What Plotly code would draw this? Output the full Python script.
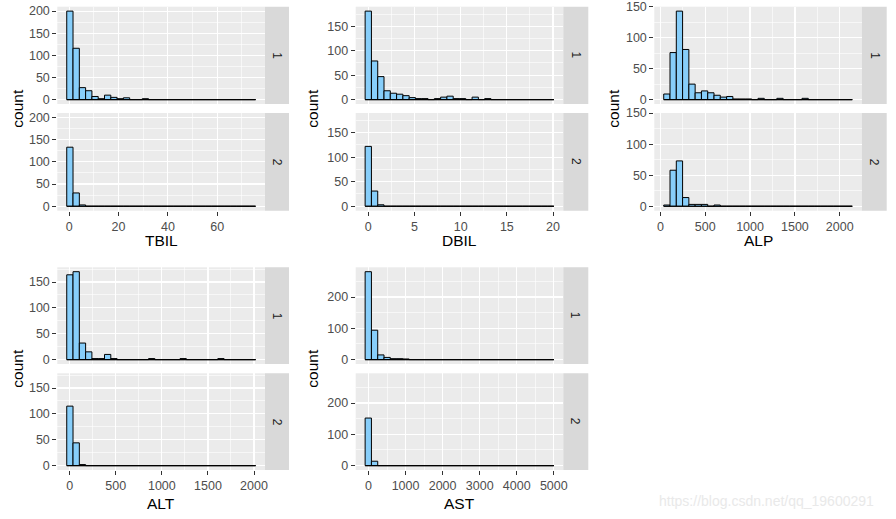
import plotly.graph_objects as go

W, H = 896, 519

# ---------------- data (counts per bin, 30 bins, facet 1 / facet 2) -------------
variables = ["TBIL", "DBIL", "ALP", "ALT", "AST"]
facet_labels = ["1", "2"]

TBIL_1 = [200, 116, 27, 20, 7, 2, 10, 5, 2, 4, 0, 0, 2, 0, 0, 0, 0, 0, 0, 0, 0, 0, 0, 0, 0, 0, 0, 0, 0, 0]
TBIL_2 = [133, 30, 3, 0, 0, 0, 0, 0, 0, 0, 0, 0, 0, 0, 0, 0, 0, 0, 0, 0, 0, 0, 0, 0, 0, 0, 0, 0, 0, 0]
DBIL_1 = [181, 79, 47, 18, 13, 11, 8, 4, 2, 2, 0, 2, 5, 7, 2, 2, 0, 5, 0, 2, 0, 0, 0, 0, 0, 0, 0, 0, 0, 0]
DBIL_2 = [122, 31, 3, 0, 0, 0, 0, 0, 0, 0, 0, 0, 0, 0, 0, 0, 0, 0, 0, 0, 0, 0, 0, 0, 0, 0, 0, 0, 0, 0]
ALP_1 = [9, 76, 143, 81, 25, 11, 14, 11, 7, 4, 5, 1, 1, 1, 0, 2, 0, 0, 2, 0, 0, 0, 2, 0, 0, 0, 0, 0, 0, 0]
ALP_2 = [2, 58, 73, 14, 3, 3, 3, 0, 2, 0, 0, 0, 0, 0, 0, 0, 0, 0, 0, 0, 0, 0, 0, 0, 0, 0, 0, 0, 0, 0]
ALT_1 = [164, 170, 32, 15, 2, 2, 10, 2, 0, 0, 0, 0, 0, 2, 0, 0, 0, 0, 2, 0, 0, 0, 0, 0, 2, 0, 0, 0, 0, 0]
ALT_2 = [115, 44, 2, 0, 0, 0, 0, 0, 0, 0, 0, 0, 0, 0, 0, 0, 0, 0, 0, 0, 0, 0, 0, 0, 0, 0, 0, 0, 0, 0]
AST_1 = [281, 94, 15, 7, 3, 3, 2, 0, 0, 0, 0, 0, 0, 0, 0, 0, 0, 0, 0, 0, 0, 0, 0, 0, 0, 0, 0, 0, 0, 0]
AST_2 = [152, 14, 0, 0, 0, 0, 0, 0, 0, 0, 0, 0, 0, 0, 0, 0, 0, 0, 0, 0, 0, 0, 0, 0, 0, 0, 0, 0, 0, 0]

counts = {
    "TBIL": [TBIL_1, TBIL_2],
    "DBIL": [DBIL_1, DBIL_2],
    "ALP": [ALP_1, ALP_2],
    "ALT": [ALT_1, ALT_2],
    "AST": [AST_1, AST_2],
}

# first bin centre and bin width (from the histogram axis)
bin_first_center = {"TBIL": 0.3, "DBIL": 0.0, "ALP": 72, "ALT": 2, "AST": -5}
bin_width = {"TBIL": 2.55, "DBIL": 0.681, "ALP": 70.1, "ALT": 68.3, "AST": 169.7}

x_dtick = {"TBIL": 20, "DBIL": 5, "ALP": 500, "ALT": 500, "AST": 1000}
y_dtick = {"TBIL": 50, "DBIL": 50, "ALP": 50, "ALT": 50, "AST": 100}

# ---------------- layout (pixels) ----------------
geom = {
    "TBIL": dict(x0=57.3, x1=265.0, sx1=289.0, rows=[(6.7, 104.0), (113.0, 210.7)], cx=18, ty=240),
    "DBIL": dict(x0=355.7, x1=563.3, sx1=588.3, rows=[(6.7, 104.0), (113.0, 210.7)], cx=313, ty=240),
    "ALP": dict(x0=654.3, x1=861.7, sx1=886.7, rows=[(6.7, 104.0), (113.0, 210.7)], cx=614, ty=240),
    "ALT": dict(x0=57.3, x1=265.0, sx1=289.0, rows=[(267.3, 364.0), (373.3, 470.0)], cx=18, ty=503),
    "AST": dict(x0=355.7, x1=563.3, sx1=588.3, rows=[(267.3, 364.0), (373.3, 470.0)], cx=313, ty=503),
}

FONT = "Liberation Sans, Arial, sans-serif"
TICK_FONT = dict(family=FONT, size=12.5, color="#4D4D4D")
TITLE_FONT = dict(family=FONT, size=15.5, color="#000000")
STRIP_FONT = dict(family=FONT, size=12, color="#1A1A1A")
FILL = "#87CEFA"

fig = go.Figure()
layout = dict(
    width=W, height=H, autosize=False,
    margin=dict(l=0, r=0, t=0, b=0, pad=0),
    paper_bgcolor="white", plot_bgcolor="#EBEBEB",
    showlegend=False, bargap=0,
    shapes=[], annotations=[],
)


def px_x(v):
    return v / W


def px_y(v):
    return 1 - v / H


idx = 0
for var in variables:
    g = geom[var]
    w = bin_width[var]
    c0 = bin_first_center[var]
    n = len(counts[var][0])
    centers = [c0 + k * w for k in range(n)]
    start = c0 - w / 2
    end = c0 + (n - 1) * w + w / 2
    span = end - start
    xr = [start - 0.05 * span, end + 0.05 * span]
    M = max(max(counts[var][0]), max(counts[var][1]))
    yr = [-0.05 * M, 1.05 * M]

    for f in range(2):
        idx += 1
        xa = "xaxis" if idx == 1 else f"xaxis{idx}"
        ya = "yaxis" if idx == 1 else f"yaxis{idx}"
        xref = "x" if idx == 1 else f"x{idx}"
        yref = "y" if idx == 1 else f"y{idx}"
        top, bot = g["rows"][f]

        fig.add_trace(go.Bar(
            x=centers, y=counts[var][f], width=w,
            marker=dict(color=FILL, line=dict(color="black", width=1)),
            xaxis=xref, yaxis=yref, hoverinfo="x+y",
        ))
        fig.add_trace(go.Scatter(
            x=[start, end], y=[0, 0], mode="lines",
            line=dict(color="black", width=1.2),
            xaxis=xref, yaxis=yref, hoverinfo="skip",
        ))

        layout[xa] = dict(
            domain=[px_x(g["x0"]), px_x(g["x1"])], anchor=yref, range=xr,
            automargin=False,
            tickmode="linear", tick0=0, dtick=x_dtick[var],
            showticklabels=(f == 1), ticks="outside" if f == 1 else "",
            ticklen=4, tickwidth=1, tickcolor="#333333", tickfont=TICK_FONT,
            showgrid=True, gridcolor="white", gridwidth=1.2, zeroline=False,
            showline=False, fixedrange=True,
            minor=dict(tick0=0, dtick=x_dtick[var] / 2, showgrid=True,
                       gridcolor="white", gridwidth=0.6, ticks=""),
        )
        layout[ya] = dict(
            domain=[px_y(bot), px_y(top)], anchor=xref, range=yr,
            automargin=False,
            tickmode="linear", tick0=0, dtick=y_dtick[var],
            ticks="outside", ticklen=4, tickwidth=1, tickcolor="#333333",
            tickfont=TICK_FONT,
            showgrid=True, gridcolor="white", gridwidth=1.2, zeroline=False,
            showline=False, fixedrange=True,
            minor=dict(tick0=0, dtick=y_dtick[var] / 2, showgrid=True,
                       gridcolor="white", gridwidth=0.6, ticks=""),
        )

        # strip on the right
        layout["shapes"].append(dict(
            type="rect", xref="paper", yref="paper",
            x0=px_x(g["x1"]), x1=px_x(g["sx1"]), y0=px_y(bot), y1=px_y(top),
            fillcolor="#D9D9D9", line=dict(width=0), layer="below",
        ))
        layout["annotations"].append(dict(
            text=facet_labels[f], xref="paper", yref="paper",
            x=px_x((g["x1"] + g["sx1"]) / 2), y=px_y((top + bot) / 2),
            showarrow=False, textangle=90, font=STRIP_FONT,
            xanchor="center", yanchor="middle",
        ))

    # y title "count"
    layout["annotations"].append(dict(
        text="count", xref="paper", yref="paper",
        x=px_x(g["cx"]), y=px_y((g["rows"][0][0] + g["rows"][1][1]) / 2),
        showarrow=False, textangle=-90, font=TITLE_FONT,
        xanchor="center", yanchor="middle",
    ))
    # x title
    layout["annotations"].append(dict(
        text=var, xref="paper", yref="paper",
        x=px_x((g["x0"] + g["x1"]) / 2), y=px_y(g["ty"]),
        showarrow=False, font=TITLE_FONT, xanchor="center", yanchor="middle",
    ))

# watermark
layout["annotations"].append(dict(
    text="https://blog.csdn.net/qq_19600291", xref="paper", yref="paper",
    x=px_x(766), y=px_y(500.7), showarrow=False,
    font=dict(family=FONT, size=14, color="#E9E9E9"),
    xanchor="center", yanchor="middle",
))

fig.update_layout(**layout)
fig.write_html(
    "out.html",
    config={"displayModeBar": False, "staticPlot": True},
    post_script="document.body.style.margin='0';document.body.style.overflow='hidden';",
)
